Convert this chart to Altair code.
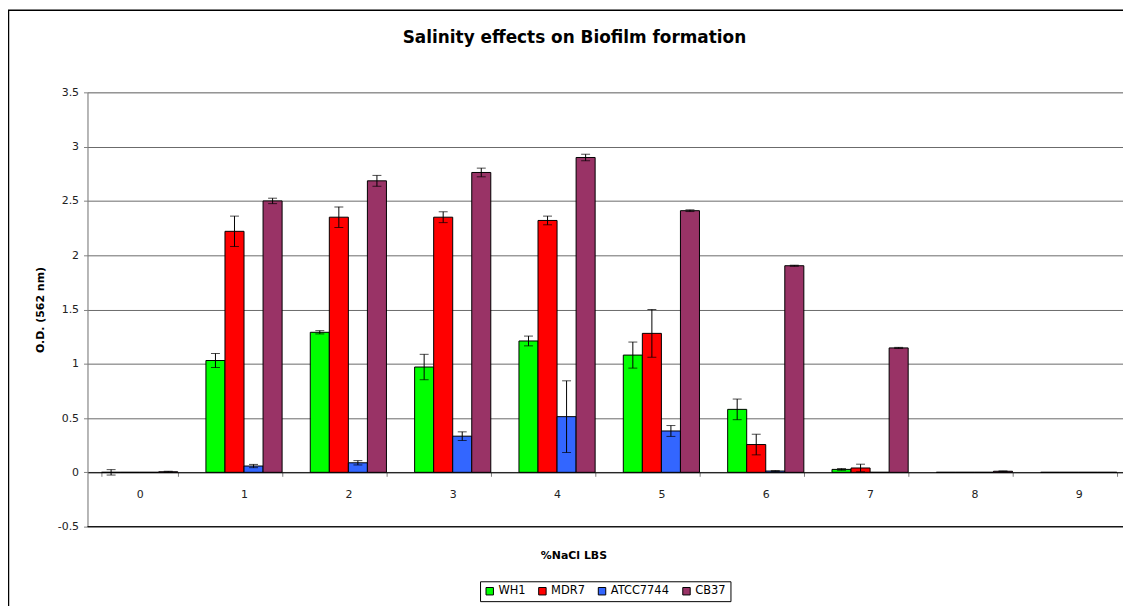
import altair as alt
import pandas as pd

conc = ["0", "1", "2", "3", "4", "5", "6", "7", "8", "9"]
series = ["WH1", "MDR7", "ATCC7744", "CB37"]
colors = ["#00FF00", "#FF0000", "#3366FF", "#993366"]

wh1 = [0.0, 1.03, 1.29, 0.97, 1.21, 1.08, 0.58, 0.027, 0.0, 0.0]
wh1_err = [0.025, 0.065, 0.015, 0.117, 0.045, 0.12, 0.095, 0.008, 0.0, 0.0]
mdr7 = [0.0, 2.22, 2.35, 2.35, 2.32, 1.28, 0.256, 0.04, 0.0, 0.0]
mdr7_err = [0.0, 0.14, 0.095, 0.05, 0.04, 0.22, 0.095, 0.035, 0.0, 0.0]
atcc = [0.0, 0.058, 0.088, 0.333, 0.513, 0.381, 0.012, 0.0, 0.0, 0.0]
atcc_err = [0.0, 0.015, 0.02, 0.04, 0.33, 0.05, 0.004, 0.0, 0.0, 0.0]
cb37 = [0.005, 2.50, 2.685, 2.762, 2.90, 2.41, 1.903, 1.146, 0.01, 0.0]
cb37_err = [0.005, 0.025, 0.05, 0.04, 0.03, 0.008, 0.005, 0.005, 0.003, 0.0]

y_ticks = [-0.5, 0, 0.5, 1, 1.5, 2, 2.5, 3, 3.5]

vals = {"WH1": (wh1, wh1_err), "MDR7": (mdr7, mdr7_err),
        "ATCC7744": (atcc, atcc_err), "CB37": (cb37, cb37_err)}
rows = []
for s in series:
    v, e = vals[s]
    for c, val, err in zip(conc, v, e):
        rows.append({"conc": c, "series": s, "od": val, "err": err,
                     "lo": val - err, "hi": val + err})
df = pd.DataFrame(rows)
df_err = df[df["err"] > 0]

W, H = 1042, 437
XR = 1050
FONT = "DejaVu Sans"

x_scale = alt.Scale(paddingInner=0.27, paddingOuter=0.135, range=[0, XR])

x_enc = alt.X("conc:N", sort=conc, scale=x_scale,
              axis=alt.Axis(title="%NaCl LBS", labelAngle=0, offset=-H * 0.5 / 4.0,
                            tickBand="extent", tickSize=4, tickColor="#808080",
                            domainColor="#000000", labelPadding=12,
                            titlePadding=51, titleFontWeight="bold",
                            titleFontSize=11, labelFontSize=11, titleX=489,
                            labelColor="#222222", titleColor="#000000",
                            labelFont=FONT, titleFont=FONT, grid=False))
xo_enc = alt.XOffset("series:N", sort=series, scale=alt.Scale(paddingInner=0, paddingOuter=0))
y_scale = alt.Scale(domain=[-0.5, 3.5], nice=False, zero=False)

bars = alt.Chart(df).mark_bar(stroke="#000000", strokeWidth=1).encode(
    x=x_enc,
    xOffset=xo_enc,
    y=alt.Y("od:Q", scale=y_scale,
            axis=alt.Axis(title="O.D. (562 nm)", values=y_ticks, tickSize=4,
                          tickColor="#808080", domainColor="#808080",
                          gridColor="#6a6a6a", labelFontSize=11,
                          labelColor="#222222", titleColor="#000000",
                          titleFontSize=11, titleFontWeight="bold",
                          labelFont=FONT, titleFont=FONT, titlePadding=12,
                          labelPadding=5,
                          labelExpr="datum.value < 0 ? '-' + format(-datum.value, '~g') : format(datum.value, '~g')")),
    y2=alt.Y2(datum=0),
    color=alt.Color("series:N", sort=series,
                    scale=alt.Scale(domain=series, range=colors),
                    legend=alt.Legend(title=None, orient="none", direction="horizontal",
                                      legendX=395, legendY=492,
                                      symbolType="square", symbolSize=56,
                                      symbolStrokeColor="#000000", symbolStrokeWidth=1,
                                      labelFontSize=11.5, labelFont=FONT, labelColor="#000000",
                                      columnPadding=11, labelOffset=3,
                                      padding=4, strokeColor="#000000", fillColor="#FFFFFF")),
)

rules = alt.Chart(df_err).mark_rule(color="#000000", strokeWidth=1).encode(
    x=alt.X("conc:N", sort=conc), xOffset=alt.XOffset("series:N", sort=series),
    y=alt.Y("lo:Q", scale=y_scale), y2="hi:Q")
cap_lo = alt.Chart(df_err).mark_tick(color="#000000", thickness=1, size=9).encode(
    x=alt.X("conc:N", sort=conc), xOffset=alt.XOffset("series:N", sort=series),
    y=alt.Y("lo:Q", scale=y_scale))
cap_hi = alt.Chart(df_err).mark_tick(color="#000000", thickness=1, size=9).encode(
    x=alt.X("conc:N", sort=conc), xOffset=alt.XOffset("series:N", sort=series),
    y=alt.Y("hi:Q", scale=y_scale))

bottom_line = alt.Chart(pd.DataFrame({"y": [-0.5]})).mark_rule(color="#000000", strokeWidth=1).encode(
    y=alt.Y("y:Q", scale=y_scale))

frame = alt.Chart(pd.DataFrame({"a": [0]})).mark_rect(
    fill=None, stroke="#000000", strokeWidth=1.5).encode(
    x=alt.value(-79.5), x2=alt.value(W + 200), y=alt.value(-82.5), y2=alt.value(H + 300))

chart = alt.layer(frame, bars, bottom_line, rules, cap_lo, cap_hi).properties(
    width=W, height=H,
    title=alt.TitleParams("Salinity effects on Biofilm formation", fontSize=17,
                          fontWeight="bold", font=FONT, color="#000000",
                          offset=-38, frame="group", anchor="middle", dx=-31),
    autosize=alt.AutoSizeParams(type="none"),
    padding={"left": 80, "top": 83, "right": 0, "bottom": 78},
).configure_view(stroke=None).configure(background="#FFFFFF")

chart.save("out.html", embed_options={"renderer": "svg", "actions": False})
